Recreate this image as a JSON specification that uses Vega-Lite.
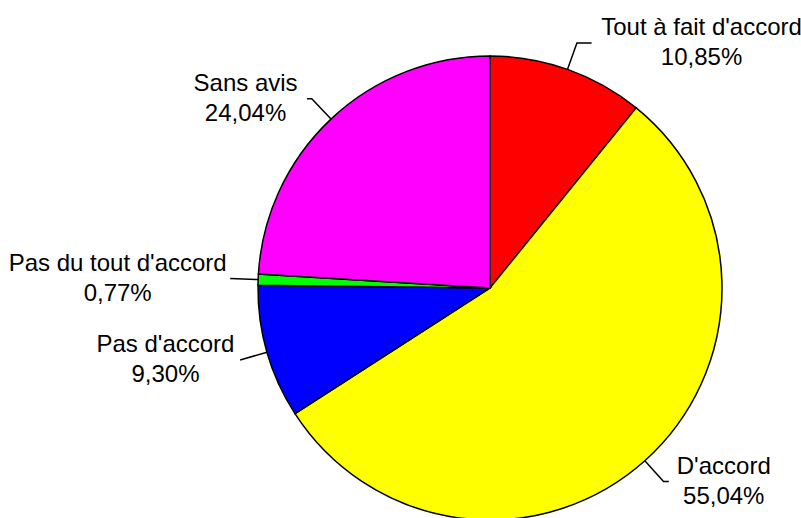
{
  "$schema": "https://vega.github.io/schema/vega-lite/v6.json",
  "width": 464,
  "height": 464,
  "autosize": {"type": "none"},
  "padding": {"left": 258, "top": 56, "right": 79, "bottom": 0},
  "background": "white",
  "config": {"view": {"stroke": null}},
  "data": {
    "values": [
      {"cat": "Tout à fait d'accord", "pct": 10.85, "order": 1},
      {"cat": "D'accord", "pct": 55.04, "order": 2},
      {"cat": "Pas d'accord", "pct": 9.30, "order": 3},
      {"cat": "Pas du tout d'accord", "pct": 0.77, "order": 4},
      {"cat": "Sans avis", "pct": 24.04, "order": 5}
    ]
  },
  "transform": [
    {"joinaggregate": [{"op": "sum", "field": "pct", "as": "total"}]},
    {"window": [{"op": "sum", "field": "pct", "as": "cum"}], "sort": [{"field": "order"}]},
    {"calculate": "(datum.cum - datum.pct/2)/datum.total*2*PI", "as": "mid"},
    {"calculate": "sin(datum.mid) >= 0 ? 1 : -1", "as": "side"},
    {"calculate": "232*sin(datum.mid)", "as": "ex"},
    {"calculate": "232*cos(datum.mid)", "as": "ey"},
    {"calculate": "260*sin(datum.mid)", "as": "p1x"},
    {"calculate": "260*cos(datum.mid)", "as": "p1y"},
    {"calculate": "datum.ex + datum.side*32", "as": "edge"},
    {"calculate": "datum.side > 0 ? max(datum.p1x, datum.edge - 8) : min(datum.p1x, datum.edge + 8)", "as": "p2x"}
  ],
  "layer": [
    {
      "mark": {"type": "arc", "stroke": "black", "strokeWidth": 1.5},
      "encoding": {
        "theta": {"field": "pct", "type": "quantitative", "stack": true},
        "order": {"field": "order"},
        "color": {
          "field": "cat",
          "type": "nominal",
          "scale": {
            "domain": ["Tout à fait d'accord", "D'accord", "Pas d'accord", "Pas du tout d'accord", "Sans avis"],
            "range": ["#FF0000", "#FFFF00", "#0000FF", "#00FF00", "#FF00FF"]
          },
          "legend": null
        }
      }
    },
    {
      "transform": [
        {"calculate": "[0,1,2]", "as": "pts"},
        {"flatten": ["pts"]},
        {"calculate": "datum.pts == 0 ? datum.ex : (datum.pts == 1 ? datum.p1x : datum.p2x)", "as": "lx"},
        {"calculate": "datum.pts == 0 ? datum.ey : datum.p1y", "as": "ly"}
      ],
      "mark": {"type": "line", "stroke": "black", "strokeWidth": 1.5},
      "encoding": {
        "x": {"field": "lx", "type": "quantitative", "scale": {"domain": [-232, 232], "nice": false, "zero": false}, "axis": null},
        "y": {"field": "ly", "type": "quantitative", "scale": {"domain": [-232, 232], "nice": false, "zero": false}, "axis": null},
        "detail": {"field": "cat"},
        "order": {"field": "pts"}
      }
    },
    {
      "transform": [
        {"calculate": "length(replace(datum.cat, regexp('[^A-Z]', 'g'), ''))", "as": "nu"},
        {"calculate": "length(replace(datum.cat, regexp(\"[^ifjlrt' ]\", 'g'), ''))", "as": "nn"},
        {"calculate": "24*(0.54*(length(datum.cat) - datum.nu - datum.nn) + 0.27*datum.nn + 0.67*datum.nu)", "as": "w"},
        {"calculate": "datum.edge + datum.side*datum.w/2", "as": "tx"},
        {"calculate": "[datum.cat, replace(format(datum.pct, '.2f'), '.', ',') + '%']", "as": "lbl"}
      ],
      "mark": {"type": "text", "font": "Liberation Sans", "fontSize": 24, "lineHeight": 30, "align": "center", "baseline": "middle", "dy": -15, "color": "black"},
      "encoding": {
        "x": {"field": "tx", "type": "quantitative", "scale": {"domain": [-232, 232], "nice": false, "zero": false}, "axis": null},
        "y": {"field": "p1y", "type": "quantitative", "scale": {"domain": [-232, 232], "nice": false, "zero": false}, "axis": null},
        "text": {"field": "lbl"}
      }
    }
  ]
}
